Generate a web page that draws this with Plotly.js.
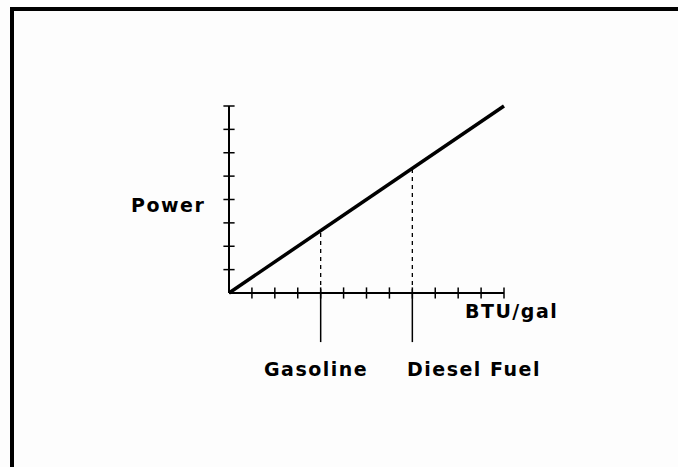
<!DOCTYPE html>
<html>
<head>
<meta charset="utf-8">
<script src="https://cdn.plot.ly/plotly-3.0.1.min.js"></script>
<style>
html,body{margin:0;padding:0;background:#fdfdfd;}
#chart{width:678px;height:467px;}
.annotation-text{letter-spacing:1.5px;}
</style>
</head>
<body>
<div id="chart"></div>
<script>
// Data
const powerLineX = [0, 12];
const powerLineY = [0, 8];
const fuels = ['Gasoline', 'Diesel Fuel'];
const fuelBTU = [4, 8];
const xTickVals = [1,2,3,4,5,6,7,8,9,10,11,12];
const yTickVals = [1,2,3,4,5,6,7,8];
const xAxisLabel = 'BTU/gal';
const yAxisLabel = 'Power';

const slope = (powerLineY[1]-powerLineY[0])/(powerLineX[1]-powerLineX[0]);
const powerAt = x => powerLineY[0] + slope*(x-powerLineX[0]);

const black = '#000000';
const traces = [];
// axes
traces.push({x:[0,powerLineX[1]], y:[0,0], mode:'lines', line:{color:black,width:2}, hoverinfo:'skip'});
traces.push({x:[0,0], y:[0,powerLineY[1]], mode:'lines', line:{color:black,width:2}, hoverinfo:'skip'});
// tick marks
traces.push({x:xTickVals, y:xTickVals.map(()=>0), mode:'markers', marker:{symbol:'line-ns', size:8, line:{color:black,width:1.5}}, hoverinfo:'skip'});
traces.push({x:yTickVals.map(()=>0), y:yTickVals, mode:'markers', marker:{symbol:'line-ew', size:8, line:{color:black,width:1.5}}, hoverinfo:'skip'});
// dashed drop lines and long ticks
fuelBTU.forEach(b=>{
  traces.push({x:[b,b], y:[0,powerAt(b)], mode:'lines', line:{color:black,width:1.3,dash:'4px,4px'}, hoverinfo:'skip'});
  traces.push({x:[b,b], y:[0,-2.1], mode:'lines', line:{color:black,width:1.5}, hoverinfo:'skip'});
});
// main line
traces.push({x:powerLineX, y:powerLineY, mode:'lines', line:{color:black,width:3.5}, hoverinfo:'skip'});

const font = {family:'DejaVu Sans', size:19, color:black, weight:700};
const annotations = [
  {x:-2.66, y:3.78, text:yAxisLabel},
  {x:12.31, y:-0.78, text:xAxisLabel},
  {x:fuelBTU[0]-0.2, y:-3.23, text:fuels[0]},
  {x:fuelBTU[1]+2.67, y:-3.23, text:fuels[1]}
].map(a=>Object.assign({xref:'x', yref:'y', showarrow:false, xanchor:'center', yanchor:'middle', font:font}, a));

const layout = {
  width:678, height:467,
  margin:{l:0,r:0,t:0,b:0},
  paper_bgcolor:'#fdfdfd', plot_bgcolor:'#fdfdfd',
  showlegend:false,
  xaxis:{visible:false, range:[-229/22.917, (678-229)/22.917]},
  yaxis:{visible:false, range:[-(467-293)/23.375, 293/23.375]},
  annotations:annotations,
  shapes:[{type:'rect', xref:'paper', yref:'paper', x0:12/678, x1:1.1, y0:-0.1, y1:1-9/467, line:{color:black,width:4}}]
};
Plotly.newPlot('chart', traces, layout, {staticPlot:true});
</script>
</body>
</html>
